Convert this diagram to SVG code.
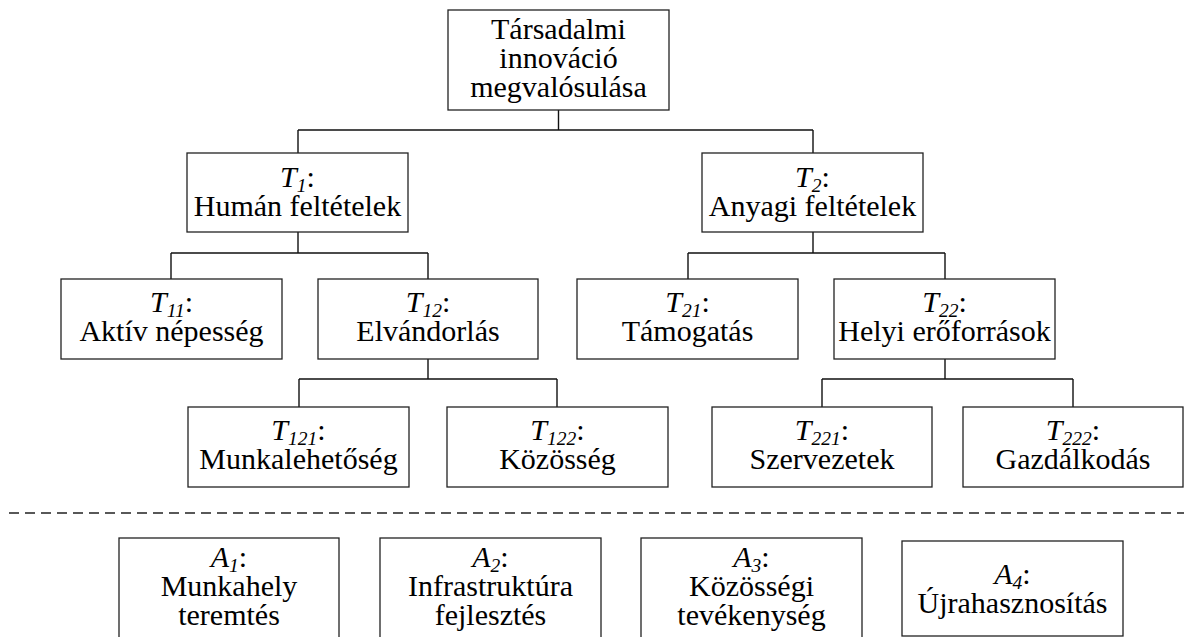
<svg xmlns="http://www.w3.org/2000/svg" width="1184" height="637" viewBox="0 0 1184 637">
<style>
.box{fill:#fff;stroke:#222;stroke-width:1.3}
.con{fill:none;stroke:#111;stroke-width:1.4}
.dash{fill:none;stroke:#222;stroke-width:1.3;stroke-dasharray:10 6}
.t{font-family:'Liberation Serif','Tinos','Times New Roman','DejaVu Serif',serif;font-size:30px;fill:#000;text-anchor:middle}
.i{font-style:italic}
.s{font-style:italic;font-size:19.5px}
</style>
<rect width="1184" height="637" fill="#fff"/>
<g id="connectors">
<path class="con" d="M558.5 110V130M298 130H813M298 130V153M813 130V153"/>
<path class="con" d="M298 232V253M171 253H428M171 253V279M428 253V279"/>
<path class="con" d="M813 232V253M688 253H945M688 253V279M945 253V279"/>
<path class="con" d="M428 359V379M299 379H557M299 379V407M557 379V407"/>
<path class="con" d="M945 359V379M822 379H1073M822 379V407M1073 379V407"/>
</g>
<line class="dash" x1="9" y1="513" x2="1184" y2="513"/>
<g class="t">
<g id="root"><rect class="box" x="448" y="10" width="221" height="100"/>
<text x="558.5" y="39">Társadalmi</text><text x="558.5" y="68">innováció</text><text x="558.5" y="97">megvalósulása</text></g>
<g id="T1"><rect class="box" x="187" y="153" width="221" height="79"/>
<text x="297.5" y="187"><tspan class="i">T</tspan><tspan class="s" dy="5">1</tspan><tspan dy="-5">:</tspan></text><text x="297.5" y="216">Humán feltételek</text></g>
<g id="T2"><rect class="box" x="702" y="153" width="221" height="79"/>
<text x="812.5" y="187"><tspan class="i">T</tspan><tspan class="s" dy="5">2</tspan><tspan dy="-5">:</tspan></text><text x="812.5" y="216">Anyagi feltételek</text></g>
<g id="T11"><rect class="box" x="61" y="279" width="221" height="80"/>
<text x="171.5" y="312"><tspan class="i">T</tspan><tspan class="s" dy="5">11</tspan><tspan dy="-5">:</tspan></text><text x="171.5" y="341">Aktív népesség</text></g>
<g id="T12"><rect class="box" x="318" y="279" width="220" height="80"/>
<text x="428" y="312"><tspan class="i">T</tspan><tspan class="s" dy="5">12</tspan><tspan dy="-5">:</tspan></text><text x="428" y="341">Elvándorlás</text></g>
<g id="T21"><rect class="box" x="577" y="279" width="221" height="80"/>
<text x="687.5" y="312"><tspan class="i">T</tspan><tspan class="s" dy="5">21</tspan><tspan dy="-5">:</tspan></text><text x="687.5" y="341">Támogatás</text></g>
<g id="T22"><rect class="box" x="834" y="279" width="221" height="80"/>
<text x="944.5" y="312"><tspan class="i">T</tspan><tspan class="s" dy="5">22</tspan><tspan dy="-5">:</tspan></text><text x="944.5" y="341">Helyi erőforrások</text></g>
<g id="T121"><rect class="box" x="188" y="407" width="221" height="80"/>
<text x="298.5" y="440"><tspan class="i">T</tspan><tspan class="s" dy="5">121</tspan><tspan dy="-5">:</tspan></text><text x="298.5" y="469">Munkalehetőség</text></g>
<g id="T122"><rect class="box" x="447" y="407" width="221" height="80"/>
<text x="557.5" y="440"><tspan class="i">T</tspan><tspan class="s" dy="5">122</tspan><tspan dy="-5">:</tspan></text><text x="557.5" y="469">Közösség</text></g>
<g id="T221"><rect class="box" x="712" y="407" width="220" height="80"/>
<text x="822" y="440"><tspan class="i">T</tspan><tspan class="s" dy="5">221</tspan><tspan dy="-5">:</tspan></text><text x="822" y="469">Szervezetek</text></g>
<g id="T222"><rect class="box" x="963" y="407" width="220" height="80"/>
<text x="1073" y="440"><tspan class="i">T</tspan><tspan class="s" dy="5">222</tspan><tspan dy="-5">:</tspan></text><text x="1073" y="469">Gazdálkodás</text></g>
<g id="A1"><rect class="box" x="119" y="538" width="220" height="110"/>
<text x="229" y="567"><tspan class="i">A</tspan><tspan class="s" dy="5">1</tspan><tspan dy="-5">:</tspan></text><text x="229" y="596">Munkahely</text><text x="229" y="625">teremtés</text></g>
<g id="A2"><rect class="box" x="380" y="538" width="221" height="110"/>
<text x="490.5" y="567"><tspan class="i">A</tspan><tspan class="s" dy="5">2</tspan><tspan dy="-5">:</tspan></text><text x="490.5" y="596">Infrastruktúra</text><text x="490.5" y="625">fejlesztés</text></g>
<g id="A3"><rect class="box" x="641" y="538" width="221" height="110"/>
<text x="751.5" y="567"><tspan class="i">A</tspan><tspan class="s" dy="5">3</tspan><tspan dy="-5">:</tspan></text><text x="751.5" y="596">Közösségi</text><text x="751.5" y="625">tevékenység</text></g>
<g id="A4"><rect class="box" x="902" y="541" width="221" height="95"/>
<text x="1012.5" y="584"><tspan class="i">A</tspan><tspan class="s" dy="5">4</tspan><tspan dy="-5">:</tspan></text><text x="1012.5" y="613">Újrahasznosítás</text></g>
</g>
</svg>
